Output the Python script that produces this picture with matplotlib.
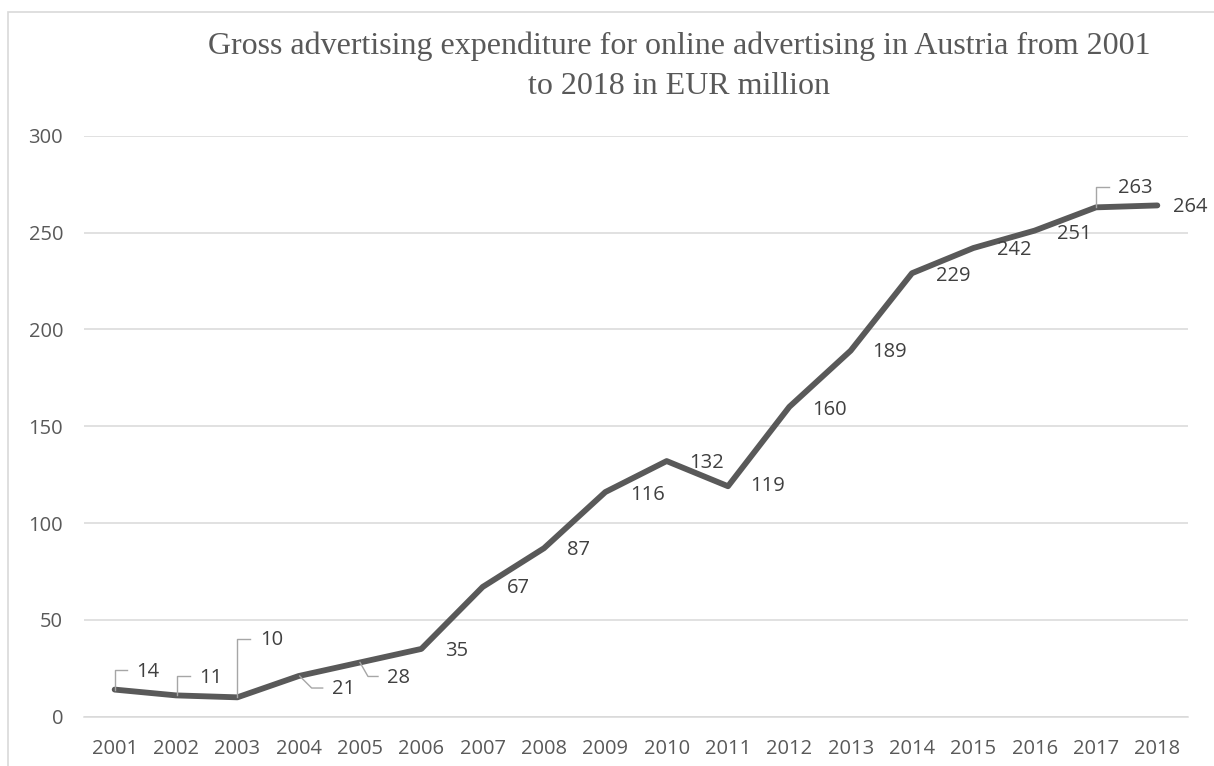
import matplotlib
matplotlib.use("Agg")
import matplotlib.pyplot as plt
from matplotlib.patches import Rectangle

years = ["2001", "2002", "2003", "2004", "2005", "2006", "2007", "2008", "2009",
         "2010", "2011", "2012", "2013", "2014", "2015", "2016", "2017", "2018"]
values = [14, 11, 10, 21, 28, 35, 67, 87, 116, 132, 119, 160, 189, 229, 242, 251, 263, 264]
yticks = [0, 50, 100, 150, 200, 250, 300]
title_line1 = "Gross advertising expenditure for online advertising in Austria from 2001"
title_line2 = "to 2018 in EUR million"

# label center offsets in pixels (dx right, dy down)
label_offsets = [(33, -18), (35, -17), (34, -57), (45, 13), (38, 16), (35, 2), (36, 1),
                 (34, 2), (42, 3), (40, 2), (40, 0), (40, 3), (39, 1), (41, 3), (41, 2),
                 (40, 3), (39, -19), (33, 2)]
# leader line paths (pixel offsets, y down)
leaders = {
    0: [(0, 0), (0, -20), (12, -20)],
    1: [(1, 0), (1, -19), (14, -19)],
    2: [(0, 0), (0, -58), (13, -58)],
    3: [(1, 0), (13, 12), (24, 12)],
    4: [(0, 0), (8, 14), (18, 14)],
    16: [(0, 0), (0, -20), (13, -20)],
}

W, H = 1214, 766
fig = plt.figure(figsize=(W / 100, H / 100), dpi=100)
ax = fig.add_axes([84 / W, 1 - 716.7 / H, (1188 - 84) / W, (716.7 - 135.7) / H])

x = list(range(len(years)))
ax.plot(x, values, color="#595959", lw=4.2, solid_capstyle="round", solid_joinstyle="round", zorder=3)

ax.set_xlim(-0.5, len(years) - 0.5)
ax.set_ylim(0, 300)
ax.set_yticks(yticks)
ax.set_xticks(x)
ax.set_xticklabels(years)
ax.yaxis.grid(True, color="#d9d9d9", lw=1.1)
ax.set_axisbelow(True)
for s in ["top", "right", "left"]:
    ax.spines[s].set_visible(False)
ax.spines["bottom"].set_color("#d9d9d9")
ax.spines["bottom"].set_linewidth(1.1)
ax.tick_params(length=0, labelsize=14.5, labelcolor="#595959")
ax.tick_params(axis="y", pad=15)
ax.tick_params(axis="x", pad=16)
for lab in ax.get_xticklabels() + ax.get_yticklabels():
    lab.set_fontfamily("Open Sans")

fig.canvas.draw()
for i, v in enumerate(values):
    px, py = ax.transData.transform((i, v))
    dx, dy = label_offsets[i]
    fig.text(px + dx, py - dy, str(v), transform=None, ha="center", va="center",
             fontsize=14.5, color="#404040", family="Open Sans", zorder=5)
    if i in leaders:
        xs = [px + a for a, b in leaders[i]]
        ys = [py - b for a, b in leaders[i]]
        fig.lines.append(plt.Line2D(xs, ys, transform=None, color="#a6a6a6", lw=1.0, zorder=2))

fig.text(679 / W, 1 - 46 / H, title_line1, ha="center", va="center",
         fontsize=23, color="#595959", family="Liberation Serif")
fig.text(679 / W, 1 - 86 / H, title_line2, ha="center", va="center",
         fontsize=23, color="#595959", family="Liberation Serif")

fig.patches.append(Rectangle((8 / W, -0.1), 1.2, 1 - 11.7 / H + 0.1, transform=fig.transFigure,
                             fill=False, edgecolor="#d9d9d9", lw=1.2))

fig.savefig("out.png", dpi=100)
